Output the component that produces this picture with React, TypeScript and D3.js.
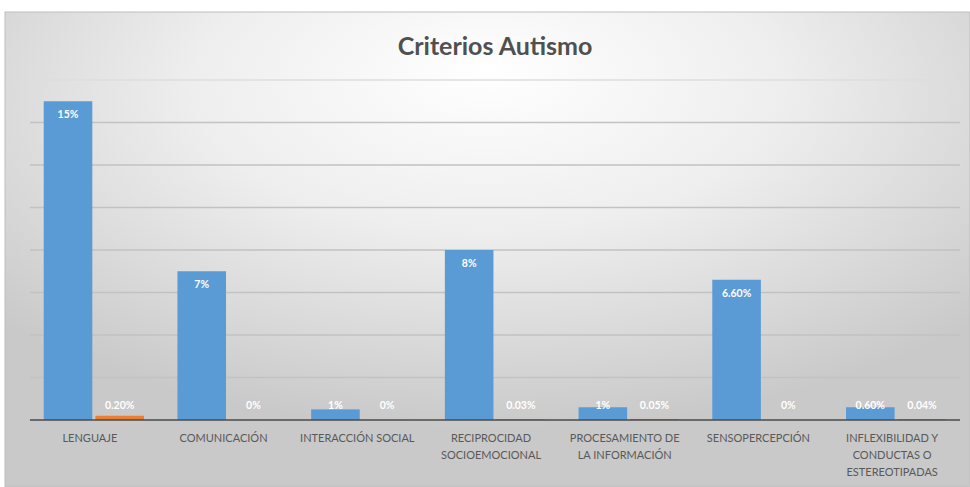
import React from "react";
import * as d3 from "d3";

const categories = [
  ["LENGUAJE"],
  ["COMUNICACIÓN"],
  ["INTERACCIÓN SOCIAL"],
  ["RECIPROCIDAD", "SOCIOEMOCIONAL"],
  ["PROCESAMIENTO DE", "LA INFORMACIÓN"],
  ["SENSOPERCEPCIÓN"],
  ["INFLEXIBILIDAD Y", "CONDUCTAS O", "ESTEREOTIPADAS"],
];
const blueValues = [15, 7, 0.5, 8, 0.6, 6.6, 0.6];
const blueLabels = ["15%", "7%", "1%", "8%", "1%", "6.60%", "0.60%"];
const orangeValues = [0.2, 0, 0, 0.03, 0.05, 0, 0.04];
const orangeLabels = ["0.20%", "0%", "0%", "0.03%", "0.05%", "0%", "0.04%"];
const yTicks = [0, 2, 4, 6, 8, 10, 12, 14, 16];

const W = 970;
const H = 487;
const FONT = "Lato, 'Open Sans', sans-serif";

export default function App() {
  const x = d3
    .scaleBand<number>()
    .domain(categories.map((_, i) => i))
    .range([27, 963])
    .paddingInner(0.25)
    .paddingOuter(0.125);
  const y = d3.scaleLinear().domain([0, 16]).range([420, 80]);
  const inner = d3.scaleBand<number>().domain([0, 1]).range([0, x.bandwidth()]).paddingInner(0.06);
  const series = [
    { values: blueValues, labels: blueLabels, color: "#5b9bd5", k: 0 },
    { values: orangeValues, labels: orangeLabels, color: "#ed7d31", k: 1 },
  ];
  return (
    <svg width={W} height={H} style={{ position: "absolute", left: 0, top: 0 }}>
      <defs>
        <radialGradient id="bg" cx="50%" cy="20%" r="68%" fx="50%" fy="12%">
          <stop offset="0%" stopColor="#ffffff" />
          <stop offset="45%" stopColor="#eeeeee" />
          <stop offset="100%" stopColor="#c9c9c9" />
        </radialGradient>
      </defs>
      <rect x={0} y={0} width={W} height={H} fill="#ffffff" />
      <rect x={5} y={12} width={W - 5} height={H - 12} fill="url(#bg)" stroke="#bdbdbd" strokeWidth={1} />
      <text x={495} y={55} textAnchor="middle" fontFamily={FONT} fontSize={25} fontWeight={700} fill="#505050">
        Criterios Autismo
      </text>
      {yTicks.slice(1).map((t) => (
        <line key={t} x1={30} x2={960} y1={y(t)} y2={y(t)} stroke={t === 16 ? "#dedede" : "#c2c2c2"} strokeWidth={1.3} />
      ))}
      {series.map((s) =>
        s.values.map((v, i) => {
          const bx = (x(i) as number) + (inner(s.k) as number);
          const bw = inner.bandwidth();
          const top = y(v);
          const h = y(0) - top;
          const ly = h > 20 ? top + 17 : 409;
          return (
            <g key={`${s.k}-${i}`}>
              {h > 0 && <rect x={bx} y={top} width={bw} height={h} fill={s.color} />}
              <text
                x={bx + bw / 2}
                y={ly}
                textAnchor="middle"
                fontFamily={FONT}
                fontSize={10.5}
                fontWeight={700}
                fill="#ffffff"
              >
                {s.labels[i]}
              </text>
            </g>
          );
        })
      )}
      <line x1={30} x2={960} y1={y(0)} y2={y(0)} stroke="#4a4a4a" strokeWidth={1.5} />
      {categories.map((lines, i) => {
        const cx = (x(i) as number) + x.bandwidth() / 2;
        return (
          <text key={i} textAnchor="middle" fontFamily={FONT} fontSize={11} fill="#595959">
            {lines.map((l, j) => (
              <tspan key={j} x={cx - 4} y={442 + j * 17}>
                {l}
              </tspan>
            ))}
          </text>
        );
      })}
    </svg>
  );
}
